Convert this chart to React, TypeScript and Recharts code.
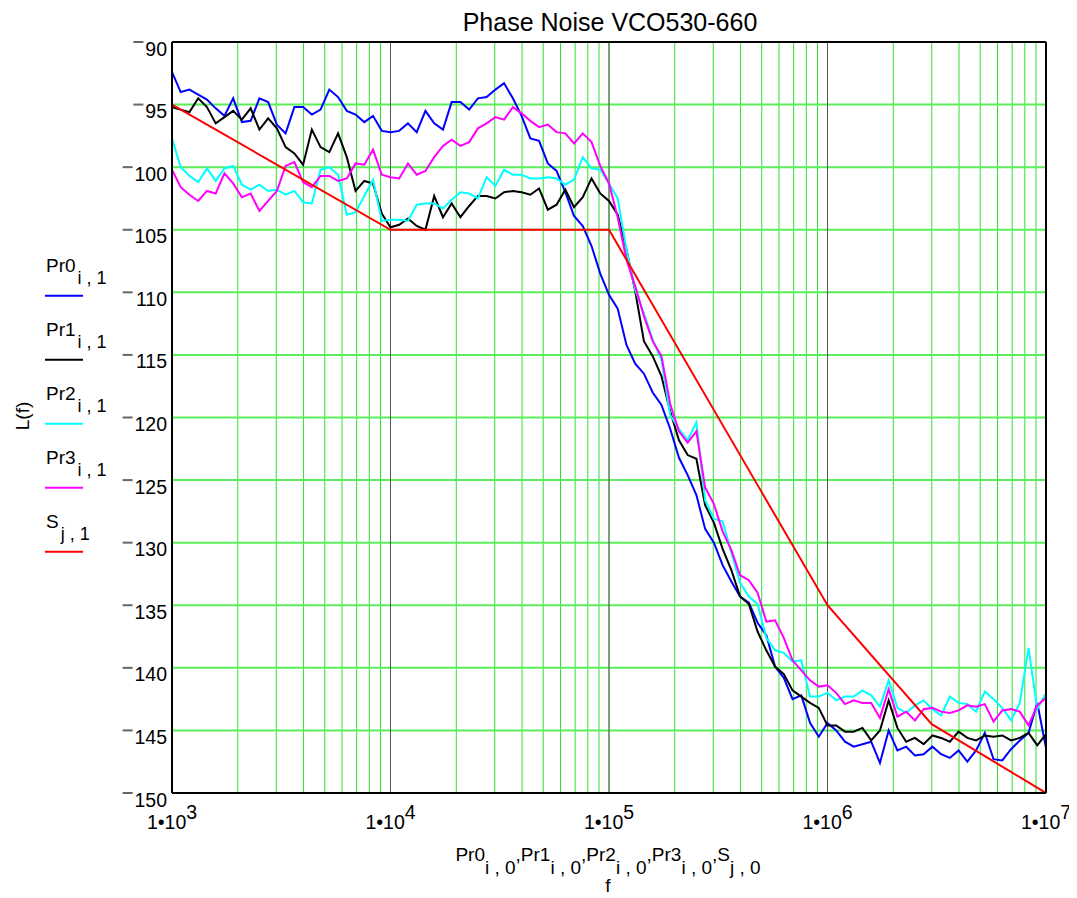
import React from "react";
import {
  LineChart,
  Line,
  XAxis,
  YAxis,
  CartesianGrid,
  ReferenceLine,
} from "recharts";

// ---------- data ----------
const freq: number[] = [
  1000, 1096, 1202, 1318, 1445, 1585, 1738, 1905, 2089, 2291, 2512, 2754, 3020, 3311, 3631, 3981, 4365, 4786, 5248, 5754, 6310, 6918, 7586, 8318, 9120,
  10000, 10960, 12020, 13180, 14450, 15850, 17380, 19050, 20890, 22910, 25120, 27540, 30200, 33110, 36310, 39810, 43650, 47860, 52480, 57540, 63100, 69180, 75860, 83180, 91200,
  100000, 109600, 120200, 131800, 144500, 158500, 173800, 190500, 208900, 229100, 251200, 275400, 302000, 331100, 363100, 398100, 436500, 478600, 524800, 575400, 631000, 691800, 758600, 831800, 912000,
  1000000, 1096000, 1202000, 1318000, 1445000, 1585000, 1738000, 1905000, 2089000, 2291000, 2512000, 2754000, 3020000, 3311000, 3631000, 3981000, 4365000, 4786000, 5248000, 5754000, 6310000, 6918000, 7586000, 8318000, 9120000,
  10000000,
];

const pr0: number[] = [
  -92.4, -94.0, -93.8, -94.2, -94.6, -95.3, -95.9, -94.5, -96.4, -96.3, -94.5, -94.8, -96.6, -97.3, -95.2, -95.2, -95.8, -95.4, -93.8, -94.4, -95.5, -95.8, -96.4, -95.9, -97.1,
  -97.2, -97.1, -96.5, -97.2, -95.5, -96.5, -97.0, -94.8, -94.8, -95.4, -94.5, -94.4, -93.8, -93.3, -94.5, -95.9, -97.7, -97.9, -99.7, -100.3, -102.0, -103.9, -104.7, -106.3, -108.5,
  -110.2, -111.3, -114.2, -115.7, -116.5, -118.0, -119.0, -120.9, -123.2, -124.6, -126.2, -128.9, -130.0, -131.8, -133.1, -134.3, -134.8, -136.4, -137.4, -139.9, -140.8, -142.5, -142.2, -144.4, -145.5,
  -144.4, -145.0, -145.9, -146.3, -146.1, -145.9, -147.6, -145.0, -146.6, -146.3, -147.0, -146.9, -146.3, -146.9, -147.2, -146.6, -147.5, -146.6, -145.2, -147.3, -147.4, -146.5, -145.8, -145.2, -142.8,
  -146.4,
];

const pr1: number[] = [
  -95.2, -95.4, -95.6, -94.5, -95.2, -96.5, -96.0, -95.5, -96.2, -95.3, -97.0, -96.1, -96.9, -98.4, -98.9, -99.8, -97.0, -98.4, -98.8, -97.3, -99.2, -101.9, -101.1, -101.3, -103.7,
  -104.8, -104.6, -104.1, -104.7, -105.0, -102.3, -104.0, -102.9, -104.0, -103.1, -102.3, -102.3, -102.5, -102.0, -101.9, -102.0, -102.2, -101.7, -103.4, -103.0, -101.8, -103.2, -102.4, -100.9, -102.1,
  -102.7, -103.8, -106.6, -109.9, -113.9, -115.1, -116.7, -119.5, -121.8, -123.0, -123.3, -127.0, -128.4, -130.5, -132.2, -134.3, -134.9, -137.1, -138.6, -139.9, -140.5, -141.8, -142.3, -142.8, -143.2,
  -144.6, -144.6, -145.1, -145.1, -144.8, -145.8, -145.0, -142.6, -144.8, -145.9, -145.6, -146.1, -145.4, -145.6, -145.9, -145.1, -145.6, -145.8, -145.4, -145.5, -145.4, -145.8, -145.6, -145.2, -146.2,
  -145.3,
];

const pr2: number[] = [
  -97.7, -100.0, -100.7, -101.2, -100.1, -101.1, -100.1, -99.9, -101.4, -101.8, -101.4, -101.9, -101.8, -102.2, -101.9, -102.8, -102.9, -100.2, -100.0, -100.6, -103.8, -103.6, -102.3, -101.0, -104.3,
  -104.2, -104.2, -104.3, -103.0, -102.9, -102.9, -103.3, -102.6, -102.0, -102.1, -102.5, -100.8, -101.5, -100.2, -100.6, -100.6, -100.9, -100.9, -100.8, -100.9, -101.4, -101.0, -99.2, -100.1, -100.2,
  -101.3, -102.5, -106.6, -109.8, -111.7, -113.8, -115.4, -119.8, -120.9, -121.8, -120.4, -126.6, -128.1, -128.3, -130.8, -133.2, -134.3, -134.9, -137.6, -138.6, -138.8, -139.5, -139.4, -142.3, -142.3,
  -142.0, -142.6, -142.3, -142.3, -141.8, -142.2, -143.1, -141.0, -143.2, -143.6, -143.0, -142.6, -143.3, -143.8, -142.3, -142.8, -142.9, -143.5, -141.9, -142.5, -143.2, -144.2, -142.8, -138.4, -143.3,
  -142.0,
];

const pr3: number[] = [
  -100.2, -101.6, -102.2, -102.7, -101.9, -102.1, -100.5, -101.3, -102.4, -102.1, -103.5, -102.7, -101.9, -99.9, -99.6, -101.2, -101.6, -100.7, -100.7, -101.1, -100.9, -99.7, -99.8, -98.6, -100.6,
  -100.8, -100.9, -99.7, -100.6, -100.3, -99.2, -98.3, -97.8, -98.3, -98.0, -96.9, -96.5, -96.0, -96.2, -95.2, -95.7, -96.3, -96.8, -96.6, -97.2, -97.3, -98.1, -97.3, -98.0, -99.9,
  -101.3, -104.0, -107.4, -109.5, -111.9, -113.9, -115.1, -118.9, -121.1, -122.0, -121.1, -125.6, -126.9, -129.1, -130.6, -132.6, -133.0, -134.0, -136.3, -136.2, -137.6, -139.4, -140.2, -141.0, -141.5,
  -141.4, -142.0, -142.9, -142.6, -142.8, -142.8, -144.0, -141.7, -143.9, -143.5, -144.2, -143.3, -143.2, -143.5, -143.6, -143.4, -143.0, -143.1, -142.9, -144.3, -143.4, -143.3, -143.5, -144.6, -143.0,
  -142.4,
];

const sFreq: number[] = [1000, 10000, 100000, 1000000, 3000000, 10000000];
const sVal: number[] = [-95, -105, -105, -135, -144.5, -150];

const yTicks: number[] = [-150, -145, -140, -135, -130, -125, -120, -115, -110, -105, -100, -95, -90];
const decades: number[] = [1000, 10000, 100000, 1000000, 10000000];
const xTicks: number[] = [
  1000, 2000, 3000, 4000, 5000, 6000, 7000, 8000, 9000,
  10000, 20000, 30000, 40000, 50000, 60000, 70000, 80000, 90000,
  100000, 200000, 300000, 400000, 500000, 600000, 700000, 800000, 900000,
  1000000, 2000000, 3000000, 4000000, 5000000, 6000000, 7000000, 8000000, 9000000,
  10000000,
];

const seriesNames = ["Pr0", "Pr1", "Pr2", "Pr3", "S"];
const seriesSubs = ["i , 1", "i , 1", "i , 1", "i , 1", "j , 1"];
const seriesColors = ["#0000ff", "#000000", "#00ffff", "#ff00ff", "#ff0000"];

const rows = freq.map((f, i) => ({ f, pr0: pr0[i], pr1: pr1[i], pr2: pr2[i], pr3: pr3[i] }));
const sRows = sFreq.map((f, i) => ({ f, s: sVal[i] }));

const FONT = "'Liberation Sans', Arial, sans-serif";

const YTick = (props: any) => {
  const { x, y, payload } = props;
  const label = String(Math.abs(payload.value));
  const right = x + 3;
  const w = label.length * 10.8;
  return (
    <g>
      <line x1={right - w - 12} x2={right - w - 2} y1={y} y2={y} stroke="#666" strokeWidth={2} />
      <text x={right} y={y + 13.5} textAnchor="end" fontSize={19.5} fontFamily={FONT} fill="#000">
        {label}
      </text>
    </g>
  );
};

const XTick = (props: any) => {
  const { x, y, payload } = props;
  const lg = Math.log10(payload.value);
  const e = Math.round(lg);
  if (Math.abs(lg - e) > 1e-6) return null;
  return (
    <text x={x} y={y + 28} textAnchor="middle" fontSize={19.5} fontFamily={FONT} fill="#000">
      <tspan>1•10</tspan>
      <tspan dy={-10}>{e}</tspan>
    </text>
  );
};

export default function App() {
  const W = 1069;
  const H = 890;
  return (
    <div style={{ position: "relative", width: W, height: H, fontFamily: FONT, background: "#fff" }}>
      <LineChart
        width={W}
        height={H}
        data={rows}
        margin={{ top: 34, right: 31, bottom: 65, left: 104 }}
        style={{ overflow: "visible" }}
      >
        <CartesianGrid horizontal={false} vertical={true} stroke="#2ee02e" strokeWidth={1} />
        <CartesianGrid horizontal={true} vertical={false} stroke="#5aee5a" strokeWidth={2} />
        <XAxis
          dataKey="f"
          type="number"
          scale="log"
          domain={[1000, 10000000]}
          allowDataOverflow
          ticks={xTicks}
          interval={0}
          tick={<XTick />}
          tickLine={false}
          axisLine={false}
          height={40}
        />
        <YAxis
          type="number"
          domain={[-150, -90]}
          allowDataOverflow
          ticks={yTicks}
          interval={0}
          tick={<YTick />}
          tickLine={false}
          axisLine={false}
          width={60}
        />
        {decades.slice(1, 4).map((d) => (
          <ReferenceLine key={d} x={d} stroke="#555" strokeWidth={1} />
        ))}
        <Line dataKey="pr0" stroke={seriesColors[0]} strokeWidth={2} dot={false} isAnimationActive={false} />
        <Line dataKey="pr1" stroke={seriesColors[1]} strokeWidth={2} dot={false} isAnimationActive={false} />
        <Line dataKey="pr2" stroke={seriesColors[2]} strokeWidth={2} dot={false} isAnimationActive={false} />
        <Line dataKey="pr3" stroke={seriesColors[3]} strokeWidth={2} dot={false} isAnimationActive={false} />
        <Line data={sRows} dataKey="s" stroke={seriesColors[4]} strokeWidth={2} dot={false} isAnimationActive={false} />
        <ReferenceLine y={-90} stroke="#000" strokeWidth={2} />
        <ReferenceLine y={-150} stroke="#000" strokeWidth={2} />
        <ReferenceLine x={1000} stroke="#000" strokeWidth={2} />
        <ReferenceLine x={10000000} stroke="#000" strokeWidth={2} />
      </LineChart>
      <svg
        width={W}
        height={H}
        style={{ position: "absolute", left: 0, top: 0, pointerEvents: "none" }}
        fontFamily={FONT}
      >
        <text x={602} y={23} textAnchor="middle" fontSize={25} fill="#000">
          Phase Noise VCO530-660
        </text>
        <text
          x={14}
          y={408}
          textAnchor="middle"
          dominantBaseline="central"
          fontSize={19}
          transform="rotate(-90 14 408)"
          fill="#000"
        >
          L(f)
        </text>
        {seriesNames.map((n, i) => {
          const ly = 287.7 + 64 * i;
          return (
            <g key={n}>
              <text x={38} y={ly - 24} fontSize={19} fill="#000">
                <tspan>{n}</tspan>
                <tspan dx={2} dy={12} fontSize={18}>{seriesSubs[i]}</tspan>
              </text>
              <line x1={37} x2={75} y1={ly} y2={ly} stroke={seriesColors[i]} strokeWidth={2} />
            </g>
          );
        })}
        <text x={600} y={853} textAnchor="middle" fontSize={19} fill="#000">
          <tspan>Pr0</tspan>
          <tspan dy={13}>i , 0</tspan>
          <tspan dy={-13}>,Pr1</tspan>
          <tspan dy={13}>i , 0</tspan>
          <tspan dy={-13}>,Pr2</tspan>
          <tspan dy={13}>i , 0</tspan>
          <tspan dy={-13}>,Pr3</tspan>
          <tspan dy={13}>i , 0</tspan>
          <tspan dy={-13}>,S</tspan>
          <tspan dy={13}>j , 0</tspan>
        </text>
        <text x={600} y={884} textAnchor="middle" fontSize={19} fill="#000">
          f
        </text>
      </svg>
    </div>
  );
}
